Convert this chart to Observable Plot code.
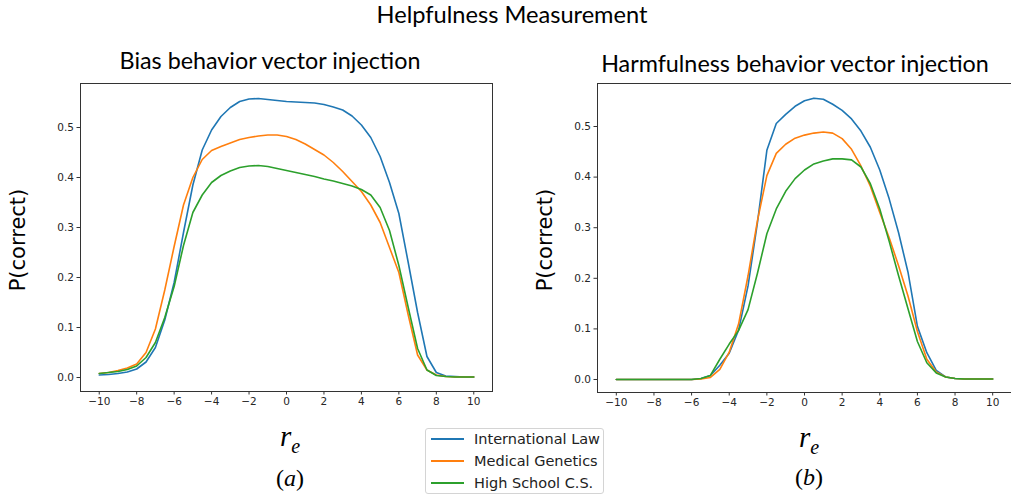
<!DOCTYPE html>
<html>
<head>
<meta charset="utf-8">
<script src="https://cdn.jsdelivr.net/npm/d3@7"></script>
<script src="https://cdn.jsdelivr.net/npm/@observablehq/plot@0.6"></script>
<style>
  html, body { margin: 0; padding: 0; background: #fff; }
  #wrap { position: relative; width: 1011px; height: 496px; overflow: hidden; background: #fff; }
  .abs { position: absolute; white-space: nowrap; transform: translate(-50%, -50%); line-height: 1; }
  .title { font-family: Lato, "Open Sans", sans-serif; color: #000; }
  .ylab { font-family: "DejaVu Sans", sans-serif; font-size: 21px; color: #000; transform: translate(-50%, -50%) rotate(-90deg); }
  .rlab { font-family: "Liberation Serif", serif; color: #000; }
  .plot { position: absolute; top: 0; }
  #legend { position: absolute; left: 425px; top: 428px; width: 179px; height: 66px; border: 1px solid #d4d4d4; border-radius: 3px; background: #fff; box-sizing: border-box; }
  .lrow { position: absolute; left: 0; font-family: "DejaVu Sans", sans-serif; font-size: 14.5px; color: #222; }
  .lrow .sw { position: absolute; left: 5px; width: 33px; height: 0; border-top: 2px solid; }
  .lrow .tx { position: absolute; left: 48px; transform: translateY(-50%); white-space: nowrap; line-height: 1; }
</style>
</head>
<body>
<div id="wrap">
  <div class="abs title" id="mainTitle" style="left:512px; top:15px;">Helpfulness Measurement</div>
  <div class="abs title" id="titleA" style="left:270px; top:61px;">Bias behavior vector injection</div>
  <div class="abs title" id="titleB" style="left:795px; top:64px;">Harmfulness behavior vector injection</div>
  <div class="plot" id="plotA" style="left:0px;"></div>
  <div class="plot" id="plotB" style="left:520px;"></div>
  <div class="abs ylab" style="left:18px; top:240px;">P(correct)</div>
  <div class="abs ylab" style="left:545px; top:240px;">P(correct)</div>
  <div class="abs rlab" style="left:290px; top:436px; font-style:italic;"><span style="font-size:29px">r</span><span style="font-size:20px; position:relative; top:7px;">e</span></div>
  <div class="abs rlab" style="left:809px; top:437px; font-style:italic;"><span style="font-size:29px">r</span><span style="font-size:20px; position:relative; top:7px;">e</span></div>
  <div class="abs rlab" style="left:290px; top:478px; font-size:24px;">(<i>a</i>)</div>
  <div class="abs rlab" style="left:809px; top:477px; font-size:24px;">(<i>b</i>)</div>
  <div id="legend"></div>
</div>
<script>
// ---- data ----
const seriesNames = ["International Law", "Medical Genetics", "High School C.S."];
const seriesColors = ["#1f77b4", "#ff7f0e", "#2ca02c"];

const rValues = [-10, -9.5, -9, -8.5, -8, -7.5, -7, -6.5, -6, -5.5, -5, -4.5, -4, -3.5, -3, -2.5, -2, -1.5, -1, -0.5,
  0, 0.5, 1, 1.5, 2, 2.5, 3, 3.5, 4, 4.5, 5, 5.5, 6, 6.5, 7, 7.5, 8, 8.5, 9, 9.5, 10];

// (a) Bias behavior vector injection
const intlLawA = [0.005, 0.006, 0.008, 0.011, 0.017, 0.031, 0.06, 0.115, 0.19, 0.29, 0.385, 0.455, 0.495, 0.522, 0.54, 0.552, 0.557, 0.558, 0.556, 0.554,
  0.552, 0.551, 0.55, 0.549, 0.546, 0.541, 0.535, 0.523, 0.505, 0.48, 0.442, 0.39, 0.328, 0.23, 0.13, 0.042, 0.01, 0.003, 0.002, 0.001, 0.001];
const medGenA = [0.008, 0.01, 0.014, 0.019, 0.027, 0.05, 0.097, 0.175, 0.262, 0.345, 0.40, 0.436, 0.454, 0.462, 0.469, 0.476, 0.48, 0.483, 0.485, 0.485,
  0.482, 0.476, 0.467, 0.456, 0.445, 0.43, 0.412, 0.392, 0.372, 0.345, 0.31, 0.26, 0.21, 0.125, 0.045, 0.015, 0.005, 0.002, 0.001, 0.001, 0.001];
const hsCSA = [0.008, 0.01, 0.012, 0.016, 0.023, 0.04, 0.07, 0.12, 0.182, 0.264, 0.33, 0.365, 0.39, 0.404, 0.413, 0.42, 0.423, 0.424, 0.422, 0.418,
  0.414, 0.41, 0.406, 0.402, 0.397, 0.393, 0.388, 0.383, 0.376, 0.365, 0.34, 0.294, 0.224, 0.14, 0.058, 0.015, 0.004, 0.002, 0.001, 0.001, 0.001];

// (b) Harmfulness behavior vector injection
const intlLawB = [0, 0, 0, 0, 0, 0, 0, 0, 0, 0.002, 0.008, 0.028, 0.052, 0.098, 0.185, 0.31, 0.453, 0.506, 0.524, 0.54,
  0.551, 0.556, 0.554, 0.544, 0.532, 0.515, 0.491, 0.459, 0.414, 0.357, 0.29, 0.212, 0.105, 0.053, 0.018, 0.005, 0.002, 0.001, 0.001, 0.001, 0.001];
const medGenB = [0, 0, 0, 0, 0, 0, 0, 0, 0, 0.001, 0.004, 0.02, 0.054, 0.11, 0.205, 0.314, 0.403, 0.447, 0.465, 0.477,
  0.483, 0.487, 0.489, 0.487, 0.476, 0.455, 0.422, 0.382, 0.33, 0.28, 0.225, 0.165, 0.095, 0.04, 0.015, 0.005, 0.002, 0.001, 0.001, 0.001, 0.001];
const hsCSB = [0, 0, 0, 0, 0, 0, 0, 0, 0, 0.002, 0.008, 0.04, 0.07, 0.097, 0.138, 0.21, 0.288, 0.337, 0.372, 0.397,
  0.414, 0.426, 0.432, 0.436, 0.436, 0.434, 0.42, 0.387, 0.337, 0.273, 0.205, 0.14, 0.075, 0.033, 0.013, 0.005, 0.002, 0.001, 0.001, 0.001, 0.001];

const xTicks = [-10, -8, -6, -4, -2, 0, 2, 4, 6, 8, 10];
const yTicks = [0, 0.1, 0.2, 0.3, 0.4, 0.5];

// ---- build ----
function toRows(arrays) {
  const rows = [];
  arrays.forEach((arr, i) => arr.forEach((v, j) => rows.push({r: rValues[j], p: v, s: seriesNames[i]})));
  return rows;
}
const fmtX = d => (d < 0 ? "\u2212" + Math.abs(d) : String(d));
const fmtY = d3.format(".1f");

function panel(rows, cfg) {
  return Plot.plot({
    width: cfg.width,
    height: 496,
    marginTop: 83,
    marginBottom: cfg.marginBottom,
    marginLeft: cfg.marginLeft,
    marginRight: cfg.marginRight,
    style: {fontFamily: "DejaVu Sans, sans-serif", fontSize: "10.5px", color: "#262626", background: "transparent", overflow: "visible"},
    x: {domain: [-11, 11]},
    y: {domain: cfg.yDomain},
    color: {domain: seriesNames, range: seriesColors},
    marks: [
      Plot.line(rows, {x: "r", y: "p", z: "s", stroke: "s", strokeWidth: 1.6}),
      Plot.frame({stroke: "#333", strokeWidth: 1}),
      Plot.axisX({ticks: xTicks, tickFormat: fmtX, tickSize: 3.5, tickPadding: 3, label: null, stroke: "#333"}),
      Plot.axisY({ticks: yTicks, tickFormat: fmtY, tickSize: 3.5, tickPadding: 3, label: null, stroke: "#333"})
    ]
  });
}

document.getElementById("plotA").appendChild(panel(toRows([intlLawA, medGenA, hsCSA]),
  {width: 500, marginLeft: 80, marginRight: 8, marginBottom: 105, yDomain: [-0.028, 0.588]}));
document.getElementById("plotB").appendChild(panel(toRows([intlLawB, medGenB, hsCSB]),
  {width: 491, marginLeft: 77, marginRight: 0, marginBottom: 104, yDomain: [-0.0257, 0.585]}));

// legend
const legend = document.getElementById("legend");
const rowTops = [10, 32, 54];
seriesNames.forEach((name, i) => {
  const row = document.createElement("div");
  row.className = "lrow";
  row.style.top = rowTops[i] + "px";
  row.innerHTML = `<div class="sw" style="border-color:${seriesColors[i]}; top:-1px"></div><div class="tx">${name}</div>`;
  legend.appendChild(row);
});

// fit title text widths to the reference widths
function fit(id, target) {
  const el = document.getElementById(id);
  let size = 24;
  el.style.fontSize = size + "px";
  const w = el.getBoundingClientRect().width;
  el.style.fontSize = (size * target / w).toFixed(2) + "px";
}
fit("mainTitle", 271);
fit("titleA", 301);
fit("titleB", 388);
</script>
</body>
</html>
